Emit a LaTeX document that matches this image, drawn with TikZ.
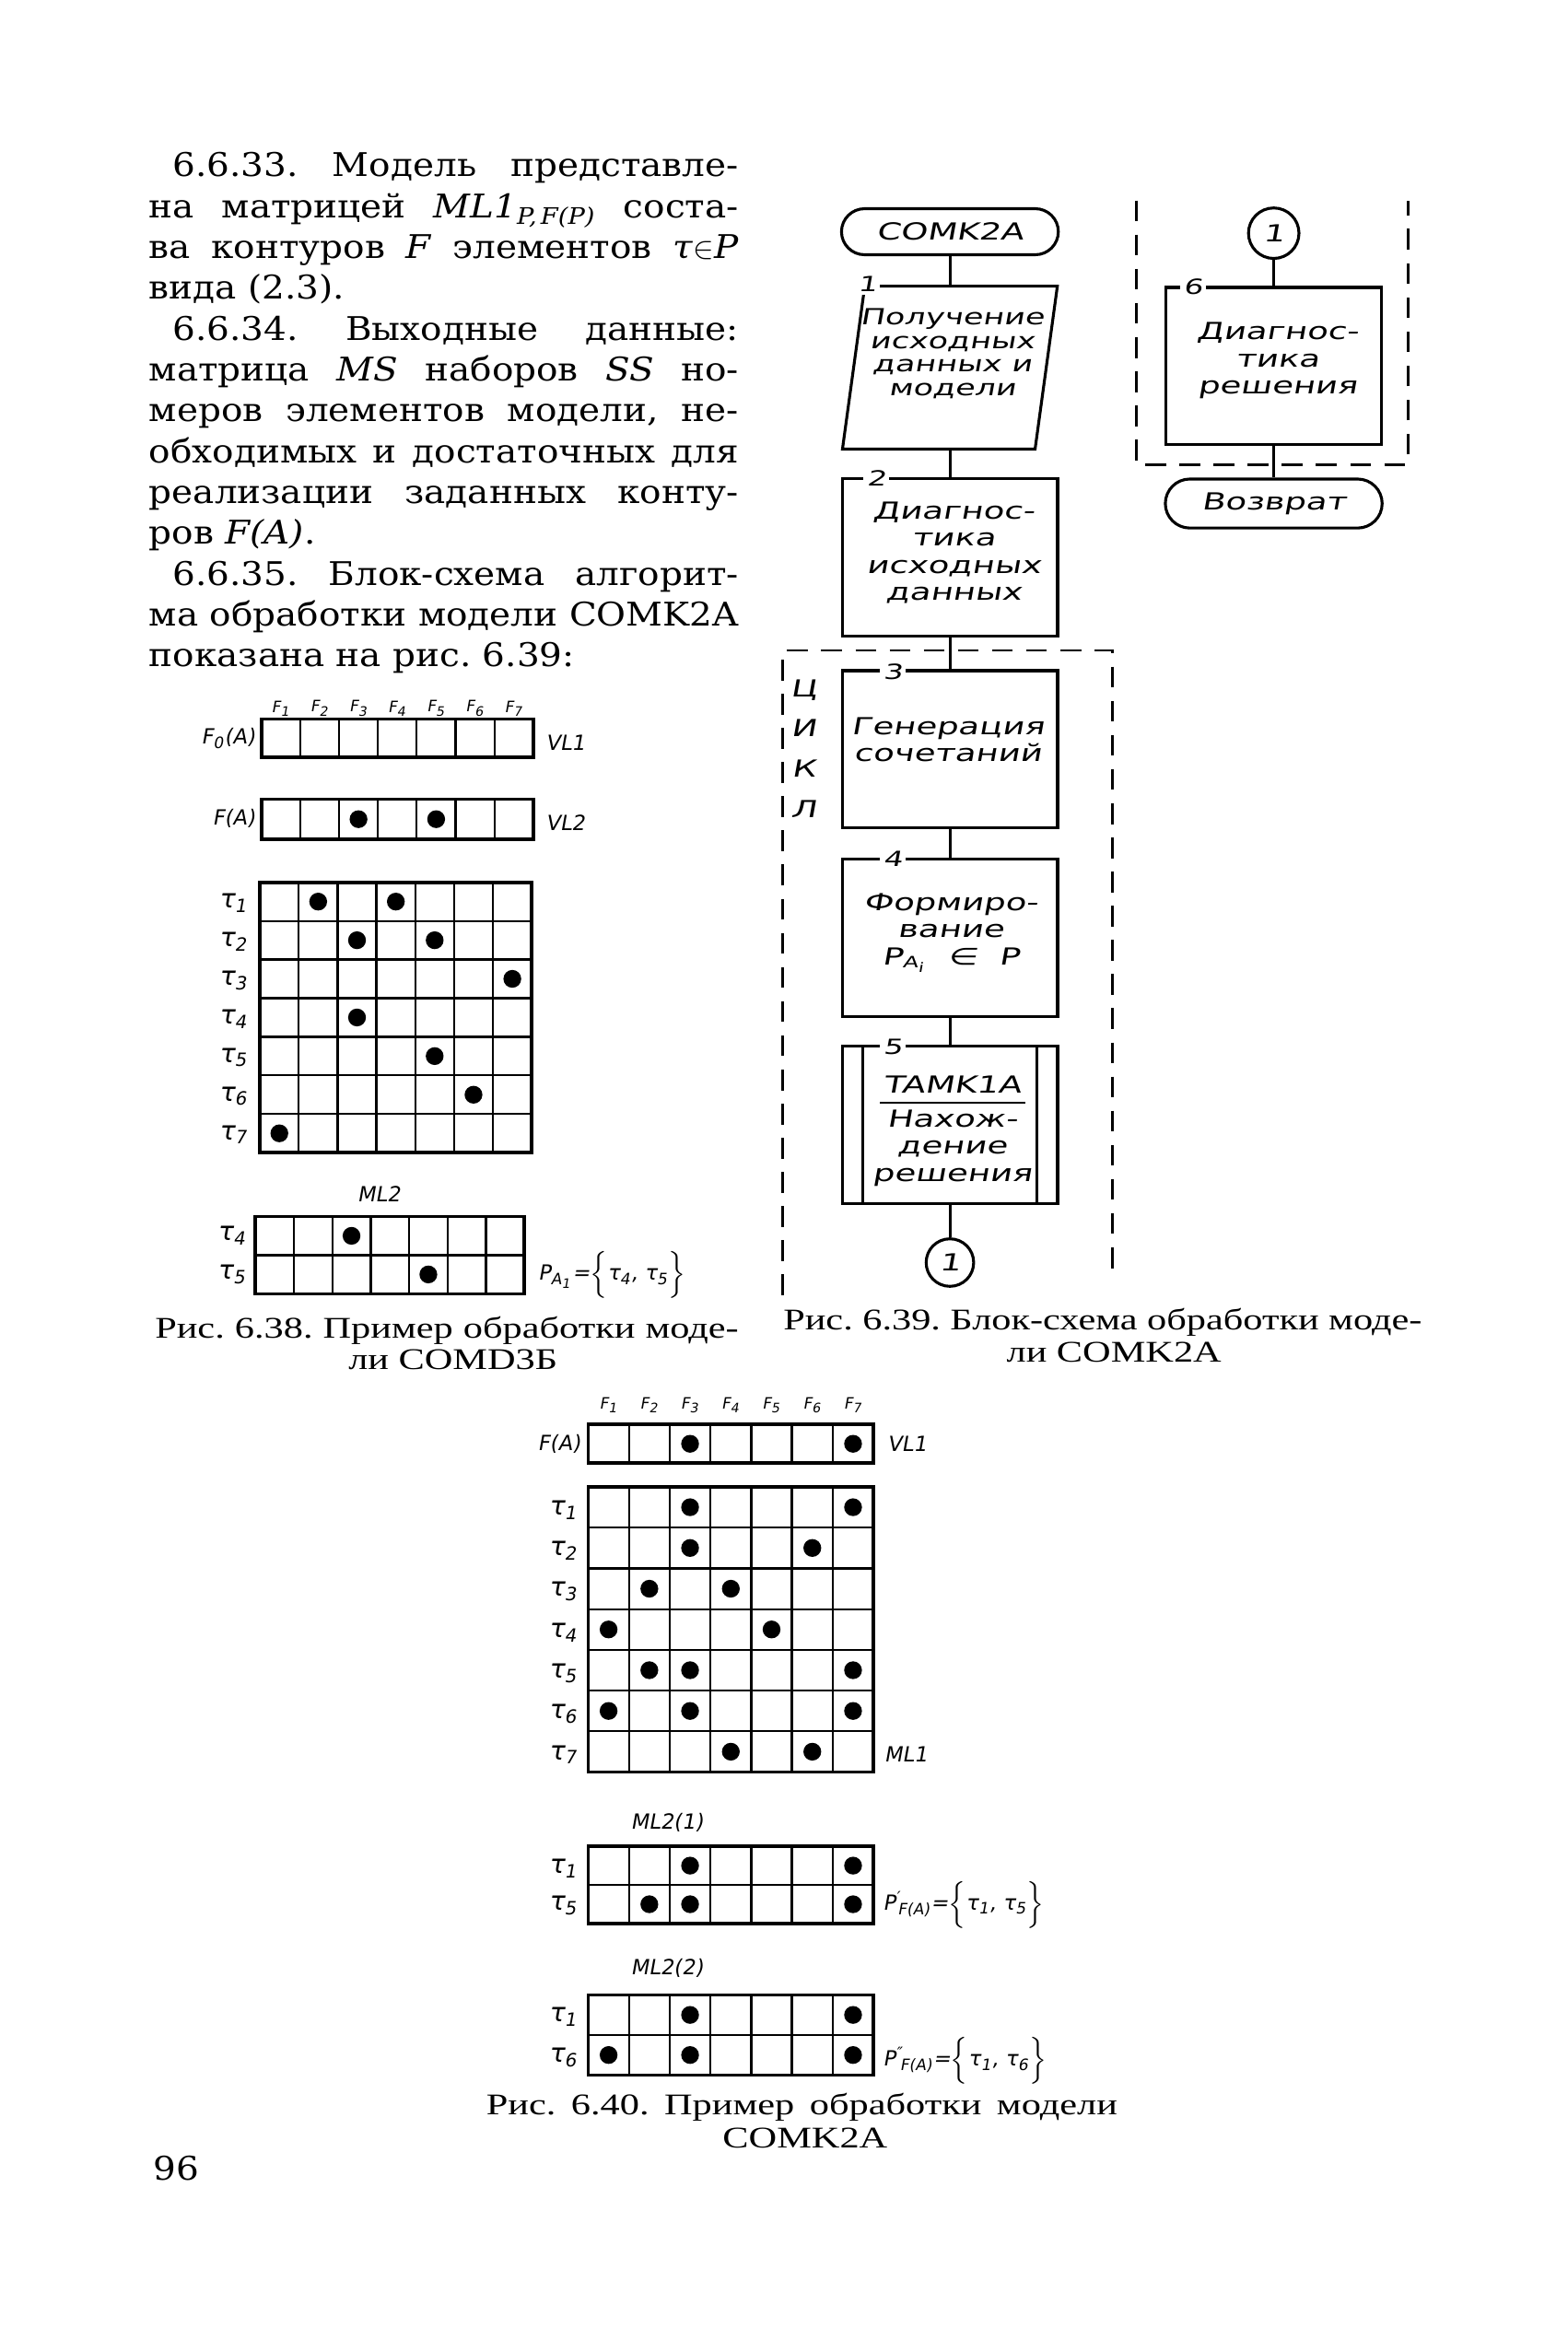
\documentclass[tikz,border=0pt]{standalone}
\usepackage{fontspec}
\setmainfont{DejaVu Serif}[FakeStretch=1.1]
\newfontfamily\hand[FakeStretch=1.45,FakeSlant=0.18]{DejaVu Sans}
\newfontfamily\handn[FakeSlant=0.18]{DejaVu Sans}
\newfontfamily\capfont[FakeStretch=1.3]{Liberation Serif}
\usetikzlibrary{calc}
\frenchspacing
\newcommand\mtx[5]{%
 \begin{scope}[shift={(#1,#2)}]
  \foreach \cc in {1,...,6} \draw[cellline] ({\cc*#3},0) -- ({\cc*#3},{#5*#4});
  \foreach \rr in {0,...,#5} \draw[cellline] (0,{\rr*#4}) -- ({7*#3},{\rr*#4});
  \draw[outerline] (0,0) rectangle ({7*#3},{#5*#4});
 \end{scope}}
\newcommand\mdots[5]{%
 \begin{scope}[shift={(#1,#2)}]
  \foreach \cc/\rr in {#5} \fill ({(\cc-0.5)*#3},{(\rr-0.5)*#4}) circle[radius=0.12cm];
 \end{scope}}
\begin{document}
\begin{tikzpicture}[x=0.02cm,y=-0.02cm]
\tikzset{
 bodyline/.style={anchor=base west, inner sep=0, font=\fontsize{12.5}{15}\selectfont},
 capline/.style={anchor=base west, inner sep=0, font=\capfont\fontsize{11.5}{13}\selectfont},
 capmid/.style={anchor=base, inner sep=0, font=\capfont\fontsize{11.5}{13}\selectfont},
 blk/.style={draw, line width=1.1pt, minimum width=2.9cm, minimum height=2.12cm, inner sep=0},
 ghost/.style={minimum width=2.88cm, minimum height=2.18cm, inner sep=0},
 term/.style={draw, line width=1.1pt, rounded corners=0.31cm, minimum width=2.92cm, minimum height=0.62cm, inner sep=0, font=\hand\fontsize{9}{10}\selectfont},
 conn/.style={draw, circle, line width=1.1pt, minimum size=0.64cm, inner sep=0, font=\hand\fontsize{9}{10}\selectfont},
 btext/.style={align=center, inner sep=0, font=\hand\fontsize{9}{10.4}\selectfont},
 num/.style={fill=white, inner sep=1.2pt, font=\hand\fontsize{8}{8}\selectfont},
 flow/.style={line width=1.1pt},
 loopbox/.style={line width=0.9pt, dash pattern=on 0.28cm off 0.18cm},
 cellline/.style={line width=0.8pt},
 outerline/.style={line width=1.3pt},
 mlabel/.style={inner sep=0, font=\handn\fontsize{8}{9}\selectfont},
 tlabel/.style={inner sep=0, anchor=east, font=\handn\fontsize{10}{10}\selectfont},
 hdr/.style={inner sep=0, font=\handn\fontsize{6}{6}\selectfont}
}
\fill[white] (0,0) rectangle (1055,1567.3);
\useasboundingbox (0,0) rectangle (1055,1567.3);

% ---------- body text ----------
\node[bodyline] (p1) at (116,119) {\makebox[7.62cm][s]{6.6.33. Модель представле-}};
\node[bodyline] (p2) at (100,146.5) {\makebox[7.94cm][s]{на матрицей \textit{ML1}\textsubscript{\textit{P,\kern1.5pt F(P)}} соста-}};
\node[bodyline] (p3) at (100,174) {\makebox[7.94cm][s]{ва контуров \textit{F} элементов \textit{τ}$\in$\textit{P}}};
\node[bodyline] (p4) at (100,201.5) {вида (2.3).};
\node[bodyline] (p5) at (116,229) {\makebox[7.62cm][s]{6.6.34. Выходные данные:}};
\node[bodyline] (p6) at (100,256.5) {\makebox[7.94cm][s]{матрица \textit{MS} наборов \textit{SS} но-}};
\node[bodyline] (p7) at (100,284) {\makebox[7.94cm][s]{меров элементов модели, не-}};
\node[bodyline] (p8) at (100,311.5) {\makebox[7.94cm][s]{обходимых и достаточных для}};
\node[bodyline] (p9) at (100,339) {\makebox[7.94cm][s]{реализации заданных конту-}};
\node[bodyline] (p10) at (100,366.5) {ров \textit{F(A)}.};
\node[bodyline] (p11) at (116,394) {\makebox[7.62cm][s]{6.6.35. Блок-схема алгорит-}};
\node[bodyline] (p12) at (100,421.5) {\makebox[7.94cm][s]{ма обработки модели COMK2A}};
\node[bodyline] (p13) at (100,449) {показана на рис. 6.39:};

% ---------- captions ----------
\node[capline] (c38a) at (104,901) {\makebox[7.86cm][s]{Рис. 6.38. Пример обработки моде-}};
\node[capmid] (c38b) at (305,922) {ли COMD3Б};
\node[capline] (c39a) at (527,895) {\makebox[8.6cm][s]{Рис. 6.39. Блок-схема обработки моде-}};
\node[capmid] (c39b) at (750,917) {ли COMK2A};
\node[capline] (c40a) at (327,1424) {\makebox[8.5cm][s]{Рис. 6.40. Пример обработки модели}};
\node[capmid] (c40b) at (542,1446) {COMK2A};
\node[bodyline] (pg) at (103,1468) {96};

% ---------- flowchart ----------
\draw[loopbox] (527,872) -- (527,438) -- (749,438) -- (749,855);
\draw[loopbox] (765,135) -- (765,313) -- (948,313) -- (948,135);
\node[btext, font=\hand\fontsize{9}{15.5}\selectfont] (loopl) at (541,504) {Ц\\И\\К\\Л};

\node[term] (t0) at (639.5,156) {COMK2A};
\node[ghost] (b1) at (639.5,247.5) {};
\draw[flow] ($(b1.north west)+(15,0)$) -- (b1.north east) -- ($(b1.south east)+(-15,0)$) -- (b1.south west) -- cycle;
\node[btext, font=\hand\fontsize{8.5}{9}\selectfont] (b1t) at (641,238) {Получение\\исходных\\данных и\\модели};
\node[num] (n1) at (584,191) {1};

\node[blk] (b2) at (639.5,375) {};
\node[btext] (b2t) at (642,372) {Диагнос-\\тика\\исходных\\данных};
\node[num] (n2) at (590,322) {2};

\node[blk] (b3) at (639.5,504.5) {};
\node[btext] (b3t) at (638,498) {Генерация\\сочетаний};
\node[num] (n3) at (601,452) {3};

\node[blk] (b4) at (639.5,631.5) {};
\node[btext] (b4t) at (640,628) {Формиро-\\вание\\P\textsubscript{A\textsubscript{i}}\ \ ∈\ \ P};
\node[num] (n4) at (601,578) {4};

\node[blk] (b5) at (639.5,757.5) {};
\draw[flow] ($(b5.north west)+(15,0)$) -- ($(b5.south west)+(15,0)$);
\draw[flow] ($(b5.north east)+(-15,0)$) -- ($(b5.south east)+(-15,0)$);
\node[btext] (b5a) at (641,730) {TAMK1A};
\draw[line width=0.9pt] ($(b5.center)+(-47,-15)$) -- ($(b5.center)+(51,-15)$);
\node[btext] (b5t) at (641,773) {Нахож-\\дение\\решения};
\node[num] (n5) at (601,705) {5};

\node[conn] (c1) at (639.5,850) {1};

\node[conn, minimum size=0.68cm] (c2) at (857.5,157) {1};
\node[blk] (b6) at (857.5,246.5) {};
\node[btext] (b6t) at (860,243) {Диагнос-\\тика\\решения};
\node[num] (n6) at (803,193) {6};
\node[term, minimum height=0.66cm, rounded corners=0.33cm] (t1) at (857.5,339) {Возврат};

\draw[flow] (t0.south) -- (b1.north);
\draw[flow] (b1.south) -- (b2.north);
\draw[flow] (b2.south) -- (b3.north);
\draw[flow] (b3.south) -- (b4.north);
\draw[flow] (b4.south) -- (b5.north);
\draw[flow] (b5.south) -- (c1.north);
\draw[flow] (c2.south) -- (b6.north);
\draw[flow] (b6.south) -- (t1.north);

% ---------- Fig 6.38 ----------
\foreach \i in {1,...,7} \node[hdr] (ha\i) at ({176+26.14*(\i-0.5)},477) {F\textsubscript{\i}};
\mtx{176}{484}{26.14}{26}{1}
\node[mlabel, anchor=east] (fa0) at (172,497) {F\textsubscript{0}(A)};
\node[mlabel, anchor=west] (vla) at (367,500) {VL1};
\mtx{176}{538}{26.14}{27}{1}
\mdots{176}{538}{26.14}{27}{3/1,5/1}
\node[mlabel, anchor=east] (fa1) at (172,551) {F(A)};
\node[mlabel, anchor=west] (vlb) at (367,554) {VL2};
\mtx{175}{594}{26.14}{26}{7}
\mdots{175}{594}{26.14}{26}{2/1,4/1,3/2,5/2,7/3,3/4,5/5,6/6,1/7}
\foreach \k in {1,...,7} \node[tlabel] (ta\k) at (167,{594+26*(\k-0.5)+1}) {τ\textsubscript{\k}};
\node[mlabel] (ml2a) at (255,804) {ML2};
\mtx{172}{819}{25.86}{26}{2}
\mdots{172}{819}{25.86}{26}{3/1,5/2}
\node[tlabel] (tb4) at (166,832) {τ\textsubscript{4}};
\node[tlabel] (tb5) at (166,858) {τ\textsubscript{5}};
\node[mlabel, anchor=west] (pa) at (362,858) {P\textsubscript{A\textsubscript{1}}=$\Big\{$τ\textsubscript{4}, τ\textsubscript{5}$\Big\}$};

% ---------- Fig 6.40 ----------
\foreach \i in {1,...,7} \node[hdr] (hb\i) at ({396+27.43*(\i-0.5)},946) {F\textsubscript{\i}};
\mtx{396}{959}{27.43}{26}{1}
\mdots{396}{959}{27.43}{26}{3/1,7/1}
\node[mlabel, anchor=east] (fb) at (391,972) {F(A)};
\node[mlabel, anchor=west] (vlc) at (597,972) {VL1};
\mtx{396}{1001}{27.43}{27.43}{7}
\mdots{396}{1001}{27.43}{27.43}{3/1,7/1,3/2,6/2,2/3,4/3,1/4,5/4,2/5,3/5,7/5,1/6,3/6,7/6,4/7,6/7}
\foreach \k in {1,...,7} \node[tlabel] (tc\k) at (389,{1001+27.43*(\k-0.5)+2}) {τ\textsubscript{\k}};
\node[mlabel, anchor=west] (ml1) at (595,1181) {ML1};
\node[mlabel] (ml21) at (449,1227) {ML2(1)};
\mtx{396}{1243}{27.43}{26}{2}
\mdots{396}{1243}{27.43}{26}{3/1,7/1,2/2,3/2,7/2}
\node[tlabel] (td1) at (389,1258) {τ\textsubscript{1}};
\node[tlabel] (td5) at (389,1283) {τ\textsubscript{5}};
\node[mlabel, anchor=west] (pb) at (594,1282) {P\textsuperscript{′}\kern-1pt\textsubscript{F(A)}=$\Big\{$τ\textsubscript{1}, τ\textsubscript{5}$\Big\}$};
\node[mlabel] (ml22) at (449,1325) {ML2(2)};
\mtx{396}{1343}{27.43}{27}{2}
\mdots{396}{1343}{27.43}{27}{3/1,7/1,1/2,3/2,7/2}
\node[tlabel] (te1) at (389,1358) {τ\textsubscript{1}};
\node[tlabel] (te6) at (389,1385) {τ\textsubscript{6}};
\node[mlabel, anchor=west] (pc) at (594,1387) {P\textsuperscript{″}\kern-1pt\textsubscript{F(A)}=$\Big\{$τ\textsubscript{1}, τ\textsubscript{6}$\Big\}$};
\end{tikzpicture}
\end{document}
